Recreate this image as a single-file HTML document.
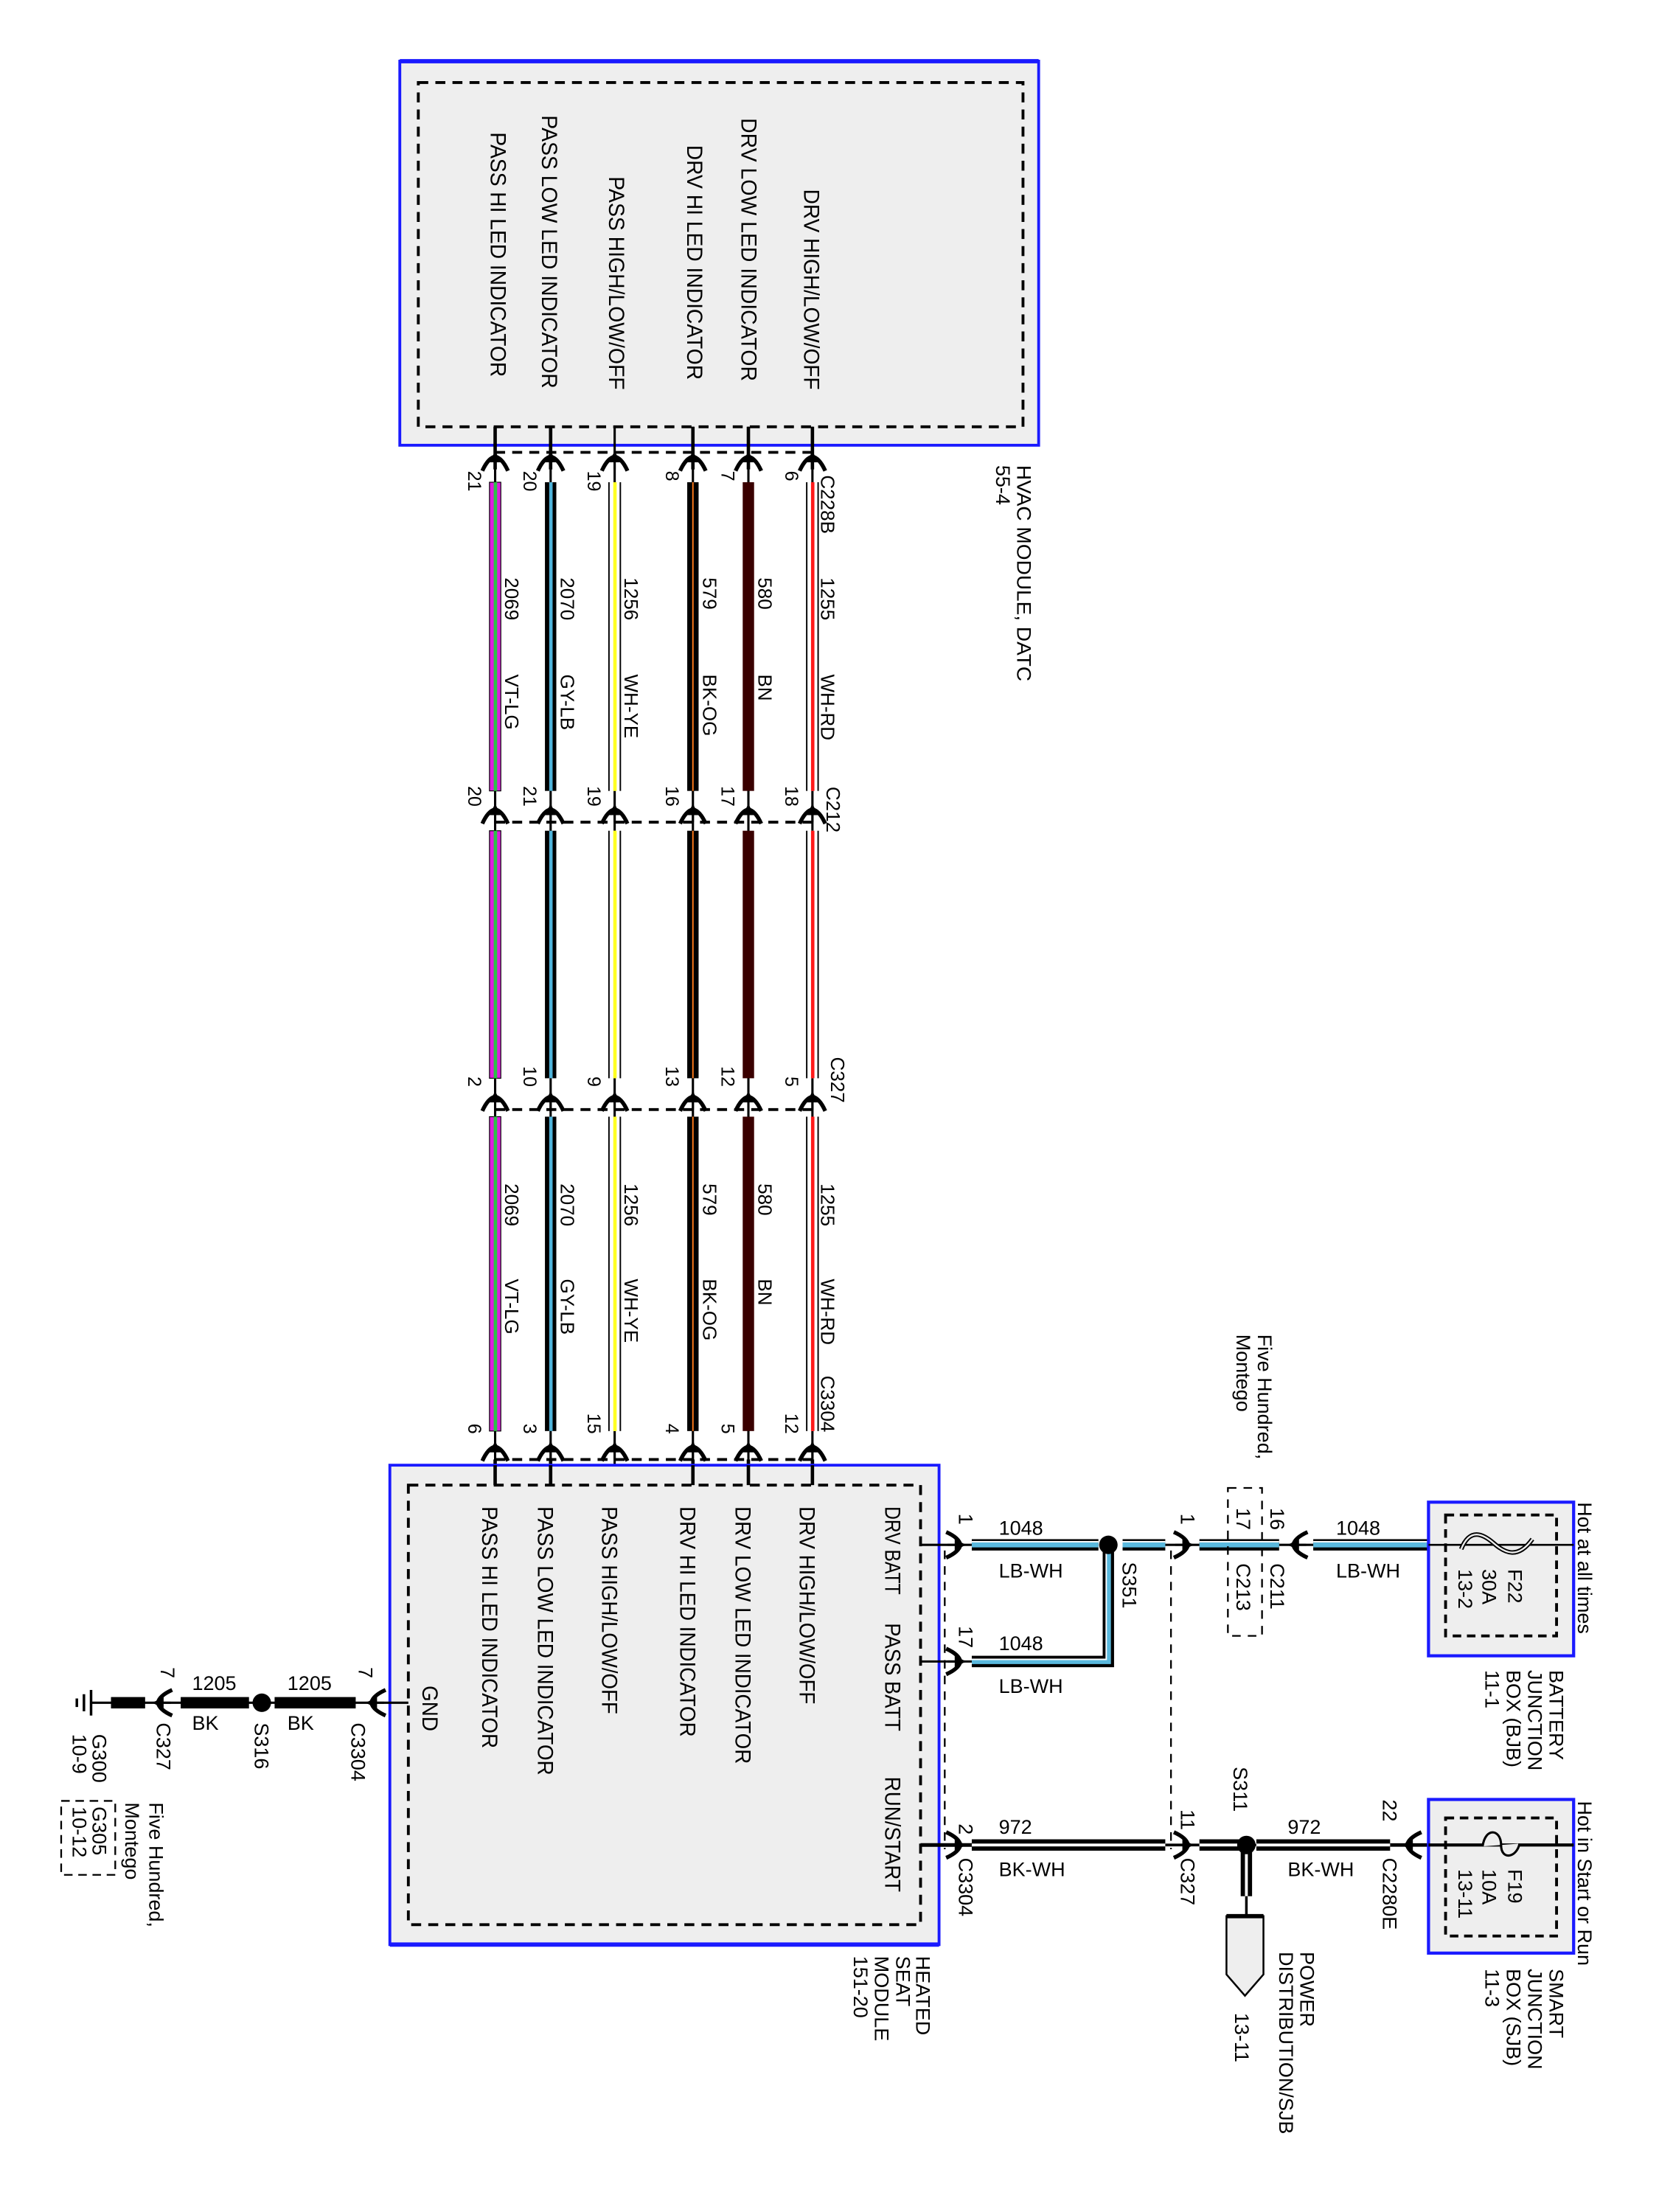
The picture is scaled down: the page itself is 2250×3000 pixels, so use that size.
<!DOCTYPE html>
<html><head><meta charset="utf-8"><style>
html,body{margin:0;padding:0;background:#fff}
svg{display:block}
text{font-family:"Liberation Sans",Arial,sans-serif;fill:#000}
</style></head><body>
<svg width="2250" height="3000" viewBox="0 0 1166 1555" preserveAspectRatio="none" xmlns="http://www.w3.org/2000/svg">
<defs>
<g id="cu"><path d="M-9,7 Q-5,-2 0,-3 Q5,-2 9,7" stroke="#000" stroke-width="2.8" fill="none"/><path d="M-4,1 L0,-7 L4,1 Z" fill="#000"/><line x1="0" y1="-6" x2="0" y2="6" stroke="#000" stroke-width="1.5"/></g>
</defs>
<rect width="1166" height="1555" fill="#fff"/>

<!-- HVAC module -->
<rect x="281" y="43" width="449" height="270" fill="#eeeeee" stroke="#1a1aff" stroke-width="2"/>
<line x1="281" y1="43" x2="730" y2="43" stroke="#1a1aff" stroke-width="3"/>
<rect x="294" y="58" width="425" height="242" fill="none" stroke="#000" stroke-width="2" stroke-dasharray="7,5"/>
<g font-size="15.5">
<text transform="translate(565,133) rotate(90)" textLength="141" lengthAdjust="spacingAndGlyphs">DRV HIGH/LOW/OFF</text>
<text transform="translate(521,83) rotate(90)" textLength="185" lengthAdjust="spacingAndGlyphs">DRV LOW LED INDICATOR</text>
<text transform="translate(483,102) rotate(90)" textLength="165" lengthAdjust="spacingAndGlyphs">DRV HI LED INDICATOR</text>
<text transform="translate(428,124) rotate(90)" textLength="150" lengthAdjust="spacingAndGlyphs">PASS HIGH/LOW/OFF</text>
<text transform="translate(381,81) rotate(90)" textLength="192" lengthAdjust="spacingAndGlyphs">PASS LOW LED INDICATOR</text>
<text transform="translate(345,93) rotate(90)" textLength="172" lengthAdjust="spacingAndGlyphs">PASS HI LED INDICATOR</text>
</g>
<g font-size="14">
<text transform="translate(715,327) rotate(90)" textLength="152" lengthAdjust="spacingAndGlyphs">HVAC MODULE, DATC</text>
<text transform="translate(700,327) rotate(90)">55-4</text>
</g>

<g stroke="#000" stroke-width="2" stroke-dasharray="7,5" fill="none">
<line x1="348" y1="318" x2="571" y2="318"/>
<line x1="348" y1="578" x2="571" y2="578"/>
<line x1="348" y1="780" x2="571" y2="780"/>
<line x1="348" y1="1026" x2="571" y2="1026"/>
</g>

<g stroke="#000" stroke-width="1.6">
<line x1="571" y1="300" x2="571" y2="1044"/>
<line x1="526" y1="300" x2="526" y2="1044"/>
<line x1="487" y1="300" x2="487" y2="1044"/>
<line x1="432" y1="300" x2="432" y2="1044"/>
<line x1="387" y1="300" x2="387" y2="1044"/>
<line x1="348" y1="300" x2="348" y2="1044"/>
</g>
<g stroke="#000" stroke-width="2.4">
<line x1="571" y1="300" x2="571" y2="330"/><line x1="526" y1="300" x2="526" y2="330"/><line x1="487" y1="300" x2="487" y2="330"/>
<line x1="387" y1="300" x2="387" y2="330"/><line x1="348" y1="300" x2="348" y2="330"/>
<line x1="571" y1="1026" x2="571" y2="1044"/><line x1="526" y1="1026" x2="526" y2="1044"/><line x1="487" y1="1026" x2="487" y2="1044"/>
<line x1="387" y1="1026" x2="387" y2="1044"/><line x1="348" y1="1026" x2="348" y2="1044"/>
</g>

<g id="segs">
<g><rect x="567" y="339" width="8" height="217" fill="#fff"/><rect x="570" y="339" width="2.4" height="217" fill="#ff1a1a"/><rect x="566.5" y="339" width="1" height="217" fill="#000"/><rect x="574.5" y="339" width="1" height="217" fill="#000"/></g>
<g><rect x="567" y="584" width="8" height="174" fill="#fff"/><rect x="570" y="584" width="2.4" height="174" fill="#ff1a1a"/><rect x="566.5" y="584" width="1" height="174" fill="#000"/><rect x="574.5" y="584" width="1" height="174" fill="#000"/></g>
<g><rect x="567" y="785" width="8" height="221" fill="#fff"/><rect x="570" y="785" width="2.4" height="221" fill="#ff1a1a"/><rect x="566.5" y="785" width="1" height="221" fill="#000"/><rect x="574.5" y="785" width="1" height="221" fill="#000"/></g>
<rect x="522" y="339" width="8" height="217" fill="#3a0000"/>
<rect x="522" y="584" width="8" height="174" fill="#3a0000"/>
<rect x="522" y="785" width="8" height="221" fill="#3a0000"/>
<g><rect x="483" y="339" width="8" height="217" fill="#000"/><rect x="486.5" y="339" width="1" height="217" fill="#ff7a1a"/></g>
<g><rect x="483" y="584" width="8" height="174" fill="#000"/><rect x="486.5" y="584" width="1" height="174" fill="#ff7a1a"/></g>
<g><rect x="483" y="785" width="8" height="221" fill="#000"/><rect x="486.5" y="785" width="1" height="221" fill="#ff7a1a"/></g>
<g><rect x="428" y="339" width="8" height="217" fill="#fff"/><rect x="431" y="339" width="2.4" height="217" fill="#ffff20"/><rect x="427.5" y="339" width="1" height="217" fill="#000"/><rect x="435.5" y="339" width="1" height="217" fill="#000"/></g>
<g><rect x="428" y="584" width="8" height="174" fill="#fff"/><rect x="431" y="584" width="2.4" height="174" fill="#ffff20"/><rect x="427.5" y="584" width="1" height="174" fill="#000"/><rect x="435.5" y="584" width="1" height="174" fill="#000"/></g>
<g><rect x="428" y="785" width="8" height="221" fill="#fff"/><rect x="431" y="785" width="2.4" height="221" fill="#ffff20"/><rect x="427.5" y="785" width="1" height="221" fill="#000"/><rect x="435.5" y="785" width="1" height="221" fill="#000"/></g>
<g><rect x="383" y="339" width="8" height="217" fill="#000"/><rect x="386" y="339" width="2.4" height="217" fill="#4fb3d9"/></g>
<g><rect x="383" y="584" width="8" height="174" fill="#000"/><rect x="386" y="584" width="2.4" height="174" fill="#4fb3d9"/></g>
<g><rect x="383" y="785" width="8" height="221" fill="#000"/><rect x="386" y="785" width="2.4" height="221" fill="#4fb3d9"/></g>
<g><rect x="344" y="339" width="8" height="217" fill="#e01be0" stroke="#000" stroke-width="0.6"/><rect x="347" y="339" width="2.4" height="217" fill="#2fc04a"/></g>
<g><rect x="344" y="584" width="8" height="174" fill="#e01be0" stroke="#000" stroke-width="0.6"/><rect x="347" y="584" width="2.4" height="174" fill="#2fc04a"/></g>
<g><rect x="344" y="785" width="8" height="221" fill="#e01be0" stroke="#000" stroke-width="0.6"/><rect x="347" y="785" width="2.4" height="221" fill="#2fc04a"/></g>
</g>

<g>
<use href="#cu" transform="translate(571,324)"/><use href="#cu" transform="translate(526,324)"/><use href="#cu" transform="translate(487,324)"/><use href="#cu" transform="translate(432,324)"/><use href="#cu" transform="translate(387,324)"/><use href="#cu" transform="translate(348,324)"/>
<use href="#cu" transform="translate(571,572)"/><use href="#cu" transform="translate(526,572)"/><use href="#cu" transform="translate(487,572)"/><use href="#cu" transform="translate(432,572)"/><use href="#cu" transform="translate(387,572)"/><use href="#cu" transform="translate(348,572)"/>
<use href="#cu" transform="translate(571,774)"/><use href="#cu" transform="translate(526,774)"/><use href="#cu" transform="translate(487,774)"/><use href="#cu" transform="translate(432,774)"/><use href="#cu" transform="translate(387,774)"/><use href="#cu" transform="translate(348,774)"/>
<use href="#cu" transform="translate(571,1020)"/><use href="#cu" transform="translate(526,1020)"/><use href="#cu" transform="translate(487,1020)"/><use href="#cu" transform="translate(432,1020)"/><use href="#cu" transform="translate(387,1020)"/><use href="#cu" transform="translate(348,1020)"/>
</g>

<g font-size="13.5">
<text transform="translate(577,406) rotate(90)">1255</text><text transform="translate(577,474) rotate(90)">WH-RD</text>
<text transform="translate(533,406) rotate(90)">580</text><text transform="translate(533,474) rotate(90)">BN</text>
<text transform="translate(494,406) rotate(90)">579</text><text transform="translate(494,474) rotate(90)">BK-OG</text>
<text transform="translate(439,406) rotate(90)">1256</text><text transform="translate(439,474) rotate(90)">WH-YE</text>
<text transform="translate(394,406) rotate(90)">2070</text><text transform="translate(394,474) rotate(90)">GY-LB</text>
<text transform="translate(355,406) rotate(90)">2069</text><text transform="translate(355,474) rotate(90)">VT-LG</text>

<text transform="translate(577,832) rotate(90)">1255</text><text transform="translate(577,899) rotate(90)">WH-RD</text>
<text transform="translate(533,832) rotate(90)">580</text><text transform="translate(533,899) rotate(90)">BN</text>
<text transform="translate(494,832) rotate(90)">579</text><text transform="translate(494,899) rotate(90)">BK-OG</text>
<text transform="translate(439,832) rotate(90)">1256</text><text transform="translate(439,899) rotate(90)">WH-YE</text>
<text transform="translate(394,832) rotate(90)">2070</text><text transform="translate(394,899) rotate(90)">GY-LB</text>
<text transform="translate(355,832) rotate(90)">2069</text><text transform="translate(355,899) rotate(90)">VT-LG</text>

<text transform="translate(577,334) rotate(90)">C228B</text>
<text transform="translate(581,553) rotate(90)">C212</text>
<text transform="translate(584,743) rotate(90)">C327</text>
<text transform="translate(577,967) rotate(90)">C3304</text>
</g>
<g font-size="13">
<text transform="translate(552,331) rotate(90)">6</text><text transform="translate(507,331) rotate(90)">7</text><text transform="translate(468,331) rotate(90)">8</text><text transform="translate(413,331) rotate(90)">19</text><text transform="translate(368,331) rotate(90)">20</text><text transform="translate(329,331) rotate(90)">21</text>
<g text-anchor="end">
<text transform="translate(552,567) rotate(90)">18</text><text transform="translate(507,567) rotate(90)">17</text><text transform="translate(468,567) rotate(90)">16</text><text transform="translate(413,567) rotate(90)">19</text><text transform="translate(368,567) rotate(90)">21</text><text transform="translate(329,567) rotate(90)">20</text>
<text transform="translate(552,764) rotate(90)">5</text><text transform="translate(507,764) rotate(90)">12</text><text transform="translate(468,764) rotate(90)">13</text><text transform="translate(413,764) rotate(90)">9</text><text transform="translate(368,764) rotate(90)">10</text><text transform="translate(329,764) rotate(90)">2</text>
<text transform="translate(552,1008) rotate(90)">12</text><text transform="translate(507,1008) rotate(90)">5</text><text transform="translate(468,1008) rotate(90)">4</text><text transform="translate(413,1008) rotate(90)">15</text><text transform="translate(368,1008) rotate(90)">3</text><text transform="translate(329,1008) rotate(90)">6</text>
</g>
</g>

<rect x="274" y="1030" width="386" height="337" fill="#eeeeee" stroke="#1a1aff" stroke-width="2"/>
<line x1="274" y1="1367" x2="660" y2="1367" stroke="#1a1aff" stroke-width="3"/>
<rect x="287" y="1044" width="360" height="309" fill="none" stroke="#000" stroke-width="2" stroke-dasharray="7,5"/>
<g stroke="#000" stroke-width="2.4">
<line x1="571" y1="1030" x2="571" y2="1044"/><line x1="526" y1="1030" x2="526" y2="1044"/><line x1="487" y1="1030" x2="487" y2="1044"/>
<line x1="387" y1="1030" x2="387" y2="1044"/><line x1="348" y1="1030" x2="348" y2="1044"/>
</g>
<g font-size="15.5">
<text transform="translate(562,1059) rotate(90)" textLength="139" lengthAdjust="spacingAndGlyphs">DRV HIGH/LOW/OFF</text>
<text transform="translate(517,1059) rotate(90)" textLength="181" lengthAdjust="spacingAndGlyphs">DRV LOW LED INDICATOR</text>
<text transform="translate(478,1059) rotate(90)" textLength="162" lengthAdjust="spacingAndGlyphs">DRV HI LED INDICATOR</text>
<text transform="translate(423,1059) rotate(90)" textLength="146" lengthAdjust="spacingAndGlyphs">PASS HIGH/LOW/OFF</text>
<text transform="translate(378,1059) rotate(90)" textLength="189" lengthAdjust="spacingAndGlyphs">PASS LOW LED INDICATOR</text>
<text transform="translate(339,1059) rotate(90)" textLength="170" lengthAdjust="spacingAndGlyphs">PASS HI LED INDICATOR</text>
<text transform="translate(297,1185) rotate(90)" textLength="32" lengthAdjust="spacingAndGlyphs">GND</text>
<text transform="translate(622,1059) rotate(90)" textLength="62" lengthAdjust="spacingAndGlyphs">DRV BATT</text>
<text transform="translate(622,1141) rotate(90)" textLength="76" lengthAdjust="spacingAndGlyphs">PASS BATT</text>
<text transform="translate(622,1249) rotate(90)" textLength="81" lengthAdjust="spacingAndGlyphs">RUN/START</text>
</g>
<g font-size="14">
<text transform="translate(644,1375) rotate(90)">HEATED</text>
<text transform="translate(630,1375) rotate(90)">SEAT</text>
<text transform="translate(615,1375) rotate(90)">MODULE</text>
<text transform="translate(600,1375) rotate(90)">151-20</text>
</g>

<g stroke="#000" stroke-width="1.6">
<line x1="647" y1="1086" x2="683" y2="1086"/>
<line x1="647" y1="1168" x2="683" y2="1168"/>
<line x1="819" y1="1086" x2="843" y2="1086"/>
<line x1="899" y1="1086" x2="923" y2="1086"/>
<line x1="1004" y1="1086" x2="1106" y2="1086"/>
<line x1="874" y1="1297" x2="883" y2="1297"/>
<line x1="977" y1="1297" x2="1106" y2="1297" stroke-width="2.4"/>
<line x1="647" y1="1297" x2="683" y2="1297" stroke-width="2.6"/>
<line x1="819" y1="1297" x2="843" y2="1297" stroke-width="2"/>
</g>
<g stroke="#000" stroke-width="1.2" stroke-dasharray="6,5" fill="none">
<line x1="664" y1="1090" x2="664" y2="1300"/>
<line x1="823" y1="1090" x2="823" y2="1300"/>
</g>
<g>
<rect x="683" y="1082" width="89" height="8" fill="#000"/><rect x="683" y="1084.2" width="89" height="3.6" fill="#5ab9de"/><rect x="683" y="1083.3" width="89" height="1" fill="#fff"/>
<rect x="789" y="1082" width="30" height="8" fill="#000"/><rect x="789" y="1084.2" width="30" height="3.6" fill="#5ab9de"/><rect x="789" y="1083.3" width="30" height="1" fill="#fff"/>
<rect x="843" y="1082" width="56" height="8" fill="#000"/><rect x="843" y="1084.2" width="56" height="3.6" fill="#5ab9de"/><rect x="843" y="1083.3" width="56" height="1" fill="#fff"/>
<rect x="923" y="1082" width="81" height="8" fill="#000"/><rect x="923" y="1084.2" width="81" height="3.6" fill="#5ab9de"/><rect x="923" y="1083.3" width="81" height="1" fill="#fff"/>
<path d="M683,1168 L779,1168 L779,1086" fill="none" stroke="#000" stroke-width="8"/>
<path d="M683,1168 L779,1168 L779,1086" fill="none" stroke="#5ab9de" stroke-width="3.6"/>
<path d="M683,1166.5 L777.5,1166.5 L777.5,1086" fill="none" stroke="#fff" stroke-width="1"/>
</g>
<circle cx="779" cy="1086" r="6.5" fill="#000"/>
<g>
<rect x="683" y="1293" width="136" height="8" fill="#000"/><rect x="683" y="1296" width="136" height="2" fill="#fff"/>
<rect x="843" y="1293" width="31" height="8" fill="#000"/><rect x="843" y="1296" width="31" height="2" fill="#fff"/>
<rect x="883" y="1293" width="94" height="8" fill="#000"/><rect x="883" y="1296" width="94" height="2" fill="#fff"/>
<rect x="872" y="1297" width="8" height="36" fill="#000"/><rect x="875" y="1297" width="2" height="36" fill="#fff"/>
<line x1="876" y1="1333" x2="876" y2="1347" stroke="#000" stroke-width="1.8"/>
</g>
<circle cx="876" cy="1297" r="6.5" fill="#000"/>
<path d="M862,1347 L888,1347 L888,1388 L875,1403 L862,1388 Z" fill="#eeeeee" stroke="#000" stroke-width="1.3"/>
<line x1="862" y1="1347" x2="888" y2="1347" stroke="#000" stroke-width="3"/>

<use href="#cu" transform="translate(672,1086) rotate(90)"/>
<use href="#cu" transform="translate(672,1168) rotate(90)"/>
<use href="#cu" transform="translate(672,1297) rotate(90)"/>
<use href="#cu" transform="translate(832,1086) rotate(90)"/>
<use href="#cu" transform="translate(832,1297) rotate(90)"/>
<use href="#cu" transform="translate(912,1086) rotate(-90)"/>
<use href="#cu" transform="translate(992,1297) rotate(-90)"/>

<rect x="863" y="1046" width="24" height="104" fill="none" stroke="#000" stroke-width="1.2" stroke-dasharray="6,5"/>

<rect x="1004" y="1056" width="102" height="108" fill="#eeeeee" stroke="#1a1aff" stroke-width="2.2"/>
<rect x="1016" y="1065" width="78" height="85" fill="none" stroke="#000" stroke-width="2" stroke-dasharray="6,4"/>
<line x1="1004" y1="1086" x2="1106" y2="1086" stroke="#000" stroke-width="1.4"/>
<path d="M1027,1089 C1033,1074 1042,1078 1050,1085 C1058,1092 1067,1096 1077,1082" fill="none" stroke="#000" stroke-width="3.2"/>
<path d="M1027,1089 C1033,1074 1042,1078 1050,1085 C1058,1092 1067,1096 1077,1082" fill="none" stroke="#eee" stroke-width="1.2"/>
<rect x="1004" y="1265" width="102" height="108" fill="#eeeeee" stroke="#1a1aff" stroke-width="2.2"/>
<rect x="1016" y="1278" width="78" height="83" fill="none" stroke="#000" stroke-width="2" stroke-dasharray="6,4"/>
<line x1="1004" y1="1297" x2="1106" y2="1297" stroke="#000" stroke-width="2.2"/>
<path d="M1042,1298 C1044,1284 1055,1286 1055,1297 C1055,1308 1066,1306 1068,1296" fill="#eee" stroke="#000" stroke-width="1.6"/>

<g font-size="14">
<text x="702" y="1079">1048</text><text x="702" y="1109">LB-WH</text>
<text x="702" y="1160">1048</text><text x="702" y="1190">LB-WH</text>
<text x="939" y="1079">1048</text><text x="939" y="1109">LB-WH</text>
<text x="702" y="1289">972</text><text x="702" y="1319">BK-WH</text>
<text x="905" y="1289">972</text><text x="905" y="1319">BK-WH</text>

<text transform="translate(674,1064) rotate(90)">1</text>
<text transform="translate(674,1143) rotate(90)">17</text>
<text transform="translate(674,1282) rotate(90)">2</text>
<text transform="translate(674,1306) rotate(90)">C3304</text>
<text transform="translate(789,1098) rotate(90)">S351</text>
<text transform="translate(830,1064) rotate(90)">1</text>
<text transform="translate(893,1060) rotate(90)">16</text>
<text transform="translate(869,1060) rotate(90)">17</text>
<text transform="translate(893,1099) rotate(90)">C211</text>
<text transform="translate(869,1099) rotate(90)">C213</text>
<text transform="translate(830,1272) rotate(90)">11</text>
<text transform="translate(830,1306) rotate(90)">C327</text>
<text transform="translate(867,1242) rotate(90)">S311</text>
<text transform="translate(972,1265) rotate(90)">22</text>
<text transform="translate(972,1306) rotate(90)">C2280E</text>
<text transform="translate(884,938) rotate(90)">Five Hundred,</text>
<text transform="translate(869,938) rotate(90)">Montego</text>

<text transform="translate(1109,1056) rotate(90)">Hot at all times</text>
<text transform="translate(1109,1266) rotate(90)">Hot in Start or Run</text>
<text transform="translate(1089,1174) rotate(90)">BATTERY</text>
<text transform="translate(1074,1174) rotate(90)">JUNCTION</text>
<text transform="translate(1059,1174) rotate(90)">BOX (BJB)</text>
<text transform="translate(1044,1174) rotate(90)">11-1</text>
<text transform="translate(1089,1384) rotate(90)">SMART</text>
<text transform="translate(1074,1384) rotate(90)">JUNCTION</text>
<text transform="translate(1059,1384) rotate(90)">BOX (SJB)</text>
<text transform="translate(1044,1384) rotate(90)">11-3</text>
<text transform="translate(1060,1103) rotate(90)">F22</text>
<text transform="translate(1042,1103) rotate(90)">30A</text>
<text transform="translate(1025,1103) rotate(90)">13-2</text>
<text transform="translate(1060,1314) rotate(90)">F19</text>
<text transform="translate(1042,1314) rotate(90)">10A</text>
<text transform="translate(1025,1314) rotate(90)">13-11</text>
<text transform="translate(914,1372) rotate(90)">POWER</text>
<text transform="translate(899,1372) rotate(90)">DISTRIBUTION/SJB</text>
<text transform="translate(868,1415) rotate(90)">13-11</text>
</g>

<line x1="64" y1="1197" x2="287" y2="1197" stroke="#000" stroke-width="1.6"/>
<rect x="78" y="1193" width="24" height="8" fill="#000"/>
<rect x="127" y="1193" width="48" height="8" fill="#000"/>
<rect x="193" y="1193" width="57" height="8" fill="#000"/>
<circle cx="184" cy="1197" r="6.5" fill="#000"/>
<use href="#cu" transform="translate(114,1197) rotate(-90)"/>
<use href="#cu" transform="translate(264,1197) rotate(-90)"/>
<g stroke="#000" stroke-width="1.8">
<line x1="64" y1="1188" x2="64" y2="1206"/>
<line x1="59" y1="1191" x2="59" y2="1203"/>
<line x1="54" y1="1194" x2="54" y2="1200"/>
</g>
<g font-size="14">
<text x="135" y="1188">1205</text><text x="135" y="1216">BK</text>
<text x="202" y="1188">1205</text><text x="202" y="1216">BK</text>
<text transform="translate(113,1172) rotate(90)">7</text>
<text transform="translate(252,1172) rotate(90)">7</text>
<text transform="translate(247,1211) rotate(90)">C3304</text>
<text transform="translate(179,1211) rotate(90)">S316</text>
<text transform="translate(110,1211) rotate(90)">C327</text>
<text transform="translate(65,1219) rotate(90)">G300</text>
<text transform="translate(51,1219) rotate(90)">10-9</text>
<text transform="translate(105,1267) rotate(90)">Five Hundred,</text>
<text transform="translate(88,1267) rotate(90)">Montego</text>
<text transform="translate(65,1270) rotate(90)">G305</text>
<text transform="translate(51,1270) rotate(90)">10-12</text>
</g>
<rect x="43" y="1266" width="38" height="52" fill="none" stroke="#000" stroke-width="1.2" stroke-dasharray="6,4"/>
</svg>
</body></html>
